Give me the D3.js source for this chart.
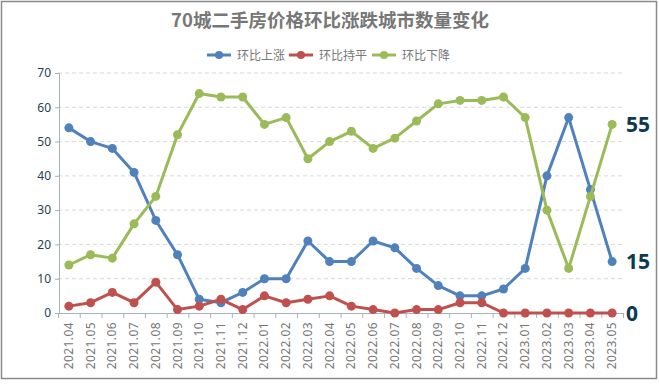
<!DOCTYPE html>
<html>
<head>
<meta charset="utf-8">
<script src="https://cdn.jsdelivr.net/npm/d3@7/dist/d3.min.js"></script>
<style>
  body { margin: 0; background: #fff; }
  svg { display: block; font-family: "Microsoft YaHei", "Noto Sans CJK SC", sans-serif; }
</style>
</head>
<body>
<div id="chart"></div>
<script>
// months on the x axis
var months = ["2021.04", "2021.05", "2021.06", "2021.07", "2021.08", "2021.09", "2021.10", "2021.11",
  "2021.12", "2022.01", "2022.02", "2022.03", "2022.04", "2022.05", "2022.06", "2022.07", "2022.08",
  "2022.09", "2022.10", "2022.11", "2022.12", "2023.01", "2023.02", "2023.03", "2023.04", "2023.05"];

// number of cities per month
var rising = [54, 50, 48, 41, 27, 17, 4, 3, 6, 10, 10, 21, 15, 15, 21, 19, 13, 8, 5, 5, 7, 13, 40, 57, 36, 15];
var flat = [2, 3, 6, 3, 9, 1, 2, 4, 1, 5, 3, 4, 5, 2, 1, 0, 1, 1, 3, 3, 0, 0, 0, 0, 0, 0];
var falling = [14, 17, 16, 26, 34, 52, 64, 63, 63, 55, 57, 45, 50, 53, 48, 51, 56, 61, 62, 62, 63, 57, 30, 13, 34, 55];

var yTicks = [0, 10, 20, 30, 40, 50, 60, 70];

var series = [
  {name: "环比上涨", values: rising, color: "#4f81bd"},
  {name: "环比持平", values: flat, color: "#c0504d"},
  {name: "环比下降", values: falling, color: "#9bbb59"}
];

var width = 659, height = 388;
var plot = {left: 58, right: 623, top: 73, bottom: 313};

var svg = d3.select("#chart").append("svg")
    .attr("width", width)
    .attr("height", height);

/* outer frame */
svg.append("rect")
    .attr("x", 1.5).attr("y", 1.5)
    .attr("width", 655).attr("height", 377)
    .attr("fill", "#fff")
    .attr("stroke", "#8a8a8a")
    .attr("stroke-width", 1.5);

/* title */
svg.append("text")
    .attr("x", 330).attr("y", 27)
    .attr("text-anchor", "middle")
    .attr("font-size", 18.5)
    .attr("font-weight", "bold")
    .attr("fill", "#777")
    .text("70城二手房价格环比涨跌城市数量变化");

/* scales */
var x = d3.scaleBand().domain(months).range([plot.left, plot.right]);
var y = d3.scaleLinear().domain([0, 70]).range([plot.bottom, plot.top]);
var cx = function (m) { return x(m) + x.bandwidth() / 2; };

/* gridlines */
svg.append("g").selectAll("line")
    .data(yTicks.filter(function (d) { return d > 0; }))
    .enter().append("line")
    .attr("x1", plot.left).attr("x2", plot.right)
    .attr("y1", function (d) { return y(d); })
    .attr("y2", function (d) { return y(d); })
    .attr("stroke", "#d9d9d9")
    .attr("stroke-dasharray", "4,3");

/* y axis */
var yAxis = svg.append("g")
    .attr("transform", "translate(" + (plot.left + 1) + ",0)")
    .call(d3.axisLeft(y).tickValues(yTicks).tickSize(4).tickPadding(4));
yAxis.select(".domain").attr("stroke", "#a5b4bb");
yAxis.selectAll(".tick line").attr("stroke", "#a5b4bb");
yAxis.selectAll("text")
    .attr("font-family", "'Noto Sans', sans-serif")
    .attr("font-size", 12)
    .attr("fill", "#1f3f52");

/* x axis: ticks at band edges */
var xAxisG = svg.append("g");
xAxisG.append("line")
    .attr("x1", plot.left).attr("x2", plot.right)
    .attr("y1", plot.bottom + 0.5).attr("y2", plot.bottom + 0.5)
    .attr("stroke", "#a5b4bb");
xAxisG.selectAll("line.tick")
    .data(months.concat(["end"]))
    .enter().append("line")
    .attr("class", "tick")
    .attr("x1", function (d, i) { return plot.left + i * x.bandwidth() + 0.5; })
    .attr("x2", function (d, i) { return plot.left + i * x.bandwidth() + 0.5; })
    .attr("y1", plot.bottom).attr("y2", plot.bottom + 5)
    .attr("stroke", "#a5b4bb");
xAxisG.selectAll("text")
    .data(months)
    .enter().append("text")
    .attr("transform", function (d) {
      return "translate(" + (cx(d) + 4) + "," + (plot.bottom + 9) + ") rotate(-90)";
    })
    .attr("text-anchor", "end")
    .attr("font-family", "'Noto Sans', sans-serif")
    .attr("font-size", 12)
    .attr("letter-spacing", 0.4)
    .attr("fill", "#777")
    .text(function (d) { return d; });

/* lines and markers */
var line = d3.line()
    .x(function (d, i) { return cx(months[i]); })
    .y(function (d) { return y(d); });

series.forEach(function (s) {
  var g = svg.append("g");
  g.append("path")
      .attr("d", line(s.values))
      .attr("fill", "none")
      .attr("stroke", s.color)
      .attr("stroke-width", 3)
      .attr("stroke-linejoin", "round");
  g.selectAll("circle")
      .data(s.values)
      .enter().append("circle")
      .attr("cx", function (d, i) { return cx(months[i]); })
      .attr("cy", function (d) { return y(d); })
      .attr("r", 4.5)
      .attr("fill", s.color);
});

/* last value labels */
svg.append("g").selectAll("text")
    .data(series)
    .enter().append("text")
    .attr("x", plot.right + 3)
    .attr("y", function (s) { return y(s.values[s.values.length - 1]) + 7.5; })
    .attr("font-family", "'Noto Sans', sans-serif")
    .attr("font-size", 21)
    .attr("font-weight", "bold")
    .attr("fill", "#0d3a50")
    .text(function (s) { return s.values[s.values.length - 1]; });

/* legend */
var legendX = [207, 289, 372];
var legend = svg.append("g").selectAll("g")
    .data(series)
    .enter().append("g")
    .attr("transform", function (s, i) { return "translate(" + legendX[i] + ",55)"; });
legend.append("line")
    .attr("x1", 0).attr("x2", 24)
    .attr("stroke", function (s) { return s.color; })
    .attr("stroke-width", 3);
legend.append("circle")
    .attr("cx", 12).attr("r", 4)
    .attr("fill", function (s) { return s.color; });
legend.append("text")
    .attr("x", 30).attr("y", 4.5)
    .attr("font-size", 12)
    .attr("fill", "#777")
    .text(function (s) { return s.name; });
</script>
</body>
</html>
